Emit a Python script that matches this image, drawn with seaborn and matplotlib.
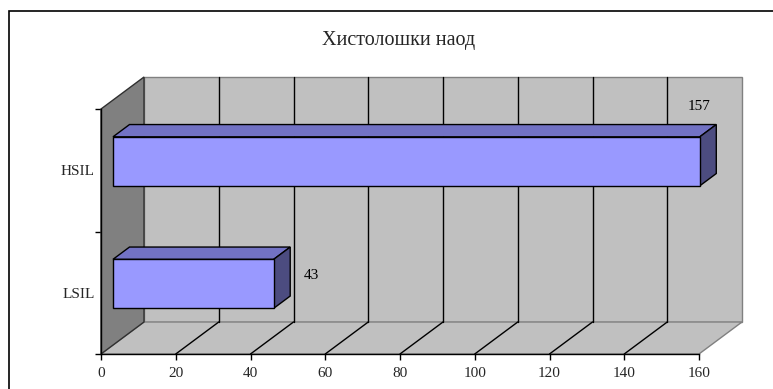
import matplotlib
matplotlib.use("Agg")
import matplotlib.pyplot as plt
from matplotlib.patches import Polygon, Rectangle
from matplotlib.lines import Line2D
import seaborn as sns
import pandas as pd

# Data
categories = ["HSIL", "LSIL"]
counts = [157, 43]
x_ticks = [0, 20, 40, 60, 80, 100, 120, 140, 160]
title = "Хистолошки наод"

sns.set_theme(style="white")
plt.rcParams["font.family"] = ["Liberation Serif", "DejaVu Serif"]

W, H, DPI = 773, 389, 100
fig = plt.figure(figsize=(W / DPI, H / DPI), dpi=DPI)

# front plane of the plot box, in pixels
left_px, right_px, top_px, bottom_px = 101, 699, 109, 354
ax = fig.add_axes([left_px / W, 1 - bottom_px / H,
                   (right_px - left_px) / W, (bottom_px - top_px) / H])

df = pd.DataFrame({"category": categories, "count": counts})
sns.barplot(data=df, x="count", y="category", order=categories, orient="h",
            width=0.4, color="#9999FF", saturation=1, edgecolor="black",
            linewidth=1.0, ax=ax, zorder=5)

xmax = x_ticks[-1]
ax.set_xlim(0, xmax)
ax.set_ylim(len(categories) - 0.5, -0.5)
ax.patch.set_visible(False)

# pixels per data unit
sx = (right_px - left_px) / xmax
sy = (bottom_px - top_px) / len(categories)

# 3-D depth (pixels to the right / upwards for the full box depth)
DEPTH_X, DEPTH_Y = 43, 32


def at(x, y, d):
    """Data point (x, y) pushed back by d pixels of depth."""
    return (x + d / sx, y - d * DEPTH_Y / DEPTH_X / sy)


y_top, y_bot = -0.5, len(categories) - 0.5

# walls and floor
back = Polygon([at(0, y_top, DEPTH_X), at(xmax, y_top, DEPTH_X),
                at(xmax, y_bot, DEPTH_X), at(0, y_bot, DEPTH_X)],
               closed=True, fc="#C0C0C0", ec="#808080", lw=1.0,
               clip_on=False, zorder=1)
floor = Polygon([at(0, y_bot, 0), at(xmax, y_bot, 0),
                 at(xmax, y_bot, DEPTH_X), at(0, y_bot, DEPTH_X)],
                closed=True, fc="#C0C0C0", ec="#808080", lw=1.0,
                clip_on=False, zorder=1)
side = Polygon([at(0, y_top, 0), at(0, y_top, DEPTH_X),
                at(0, y_bot, DEPTH_X), at(0, y_bot, 0)],
               closed=True, fc="#808080", ec="#303030", lw=1.0,
               clip_on=False, zorder=1.5)
for p in (back, floor, side):
    ax.add_patch(p)

# gridlines on the back wall and floor
for v in x_ticks[1:-1]:
    p0, p1 = at(v, y_top, DEPTH_X), at(v, y_bot, DEPTH_X)
    ax.add_line(Line2D([p0[0], p1[0]], [p0[1], p1[1]], color="black",
                       lw=1.0, clip_on=False, zorder=2))
    f0, f1 = at(v, y_bot, 0), at(v, y_bot, DEPTH_X)
    ax.add_line(Line2D([f0[0], f1[0]], [f0[1], f1[1]], color="black",
                       lw=1.0, clip_on=False, zorder=2))

# extrude the bars
BAR_FRONT, BAR_BACK = 12, 28.5
for patch in list(ax.patches):
    if patch in (back, floor, side):
        continue
    x0, w = patch.get_x(), patch.get_width()
    y0, h = patch.get_y(), patch.get_height()
    ya, yb = min(y0, y0 + h), max(y0, y0 + h)
    fx, fy = at(x0, ya, BAR_FRONT)
    patch.set_xy((fx, fy))
    patch.set_zorder(6)
    patch.set_clip_on(False)
    top_face = Polygon([at(x0, ya, BAR_FRONT), at(x0 + w, ya, BAR_FRONT),
                        at(x0 + w, ya, BAR_BACK), at(x0, ya, BAR_BACK)],
                       closed=True, fc="#7272C4", ec="black", lw=1.0,
                       clip_on=False, zorder=5)
    end_face = Polygon([at(x0 + w, ya, BAR_FRONT), at(x0 + w, ya, BAR_BACK),
                        at(x0 + w, yb, BAR_BACK), at(x0 + w, yb, BAR_FRONT)],
                       closed=True, fc="#4C4C80", ec="black", lw=1.0,
                       clip_on=False, zorder=5)
    ax.add_patch(top_face)
    ax.add_patch(end_face)

# value labels (baseline offsets from the bar's front end)
label_offsets = [(-1, 51), (38, 5)]
for i, (v, off) in enumerate(zip(counts, label_offsets)):
    ax.annotate(str(v), xy=at(v, i, BAR_FRONT), xytext=off,
                textcoords="offset pixels", ha="center", va="baseline",
                fontsize=11, color="black", zorder=7,
                annotation_clip=False)

# axes styling
for s in ("top", "right"):
    ax.spines[s].set_visible(False)
for s in ("left", "bottom"):
    ax.spines[s].set_color("black")
    ax.spines[s].set_linewidth(1.0)
    ax.spines[s].set_zorder(8)
ax.set_xticks(x_ticks)
ax.set_xticklabels([str(t) for t in x_ticks])
ax.set_yticks(range(len(categories)))
ax.set_yticks([y_top + k for k in range(len(categories) + 1)], minor=True)
ax.tick_params(axis="x", which="major", direction="out", length=4, width=1,
               color="black", labelsize=11, pad=5.5, bottom=True)
ax.tick_params(axis="y", which="major", length=0, labelsize=11, pad=4.3)
ax.tick_params(axis="y", which="minor", direction="out", length=4, width=1,
               color="black", left=True)
ax.set_xlabel("")
ax.set_ylabel("")

# chart title and outer frame
fig.text(398.5 / W, 1 - 45.5 / H, title, ha="center", va="baseline",
         fontsize=14.5)
fig.patches.append(Rectangle((9 / W, -0.1), 1.2, 1 - 11 / H + 0.1,
                             transform=fig.transFigure, fill=False,
                             ec="black", lw=1.2))

fig.savefig("out.png", dpi=DPI)
